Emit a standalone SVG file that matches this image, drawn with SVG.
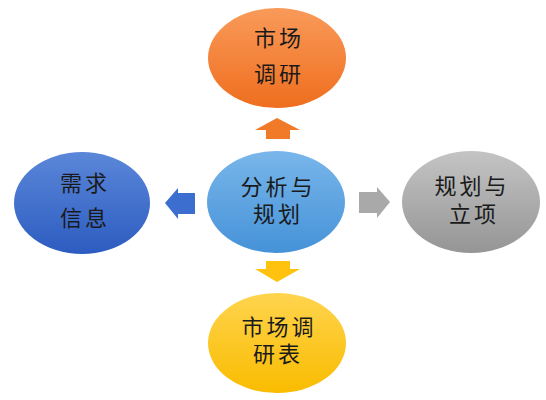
<svg xmlns="http://www.w3.org/2000/svg" width="546" height="400" viewBox="0 0 546 400">
<defs>
<linearGradient id="gOrange" x1="0" y1="0" x2="0" y2="1"><stop offset="0" stop-color="#F99A5A"/><stop offset="1" stop-color="#EF6E1E"/></linearGradient>
<linearGradient id="gBlue" x1="0" y1="0" x2="0" y2="1"><stop offset="0" stop-color="#5B87D9"/><stop offset="1" stop-color="#2C5CC0"/></linearGradient>
<linearGradient id="gLight" x1="0" y1="0" x2="0" y2="1"><stop offset="0" stop-color="#79B6EA"/><stop offset="1" stop-color="#4592D8"/></linearGradient>
<linearGradient id="gGray" x1="0" y1="0" x2="0" y2="1"><stop offset="0" stop-color="#C4C4C4"/><stop offset="1" stop-color="#959595"/></linearGradient>
<linearGradient id="gYellow" x1="0" y1="0" x2="0" y2="1"><stop offset="0" stop-color="#FFD44E"/><stop offset="1" stop-color="#F9BC00"/></linearGradient>
</defs>
<style>
text{font-family:"Noto Sans CJK SC","Noto Sans CJK JP",sans-serif;font-size:22px;letter-spacing:3px;fill:#1a1a1a;text-anchor:middle}
</style>
<g id="connectors">
<polygon points="277,118 300,130 290,130 290,139 266,139 266,130 255,130" fill="#F07A28"/>
<polygon points="165,203 178,188 178,193 195,193 195,214 178,214 178,219" fill="#3C6ECF"/>
<polygon points="390,202 377,187 377,192 359,192 359,213 377,213 377,218" fill="#A9A9A9"/>
<polygon points="277,282 300,269 290,269 290,261 266,261 266,269 255,269" fill="#FFC20E"/>
</g>
<g id="n-market">
<ellipse cx="277" cy="58" rx="69" ry="50" fill="url(#gOrange)"/>
<text x="279" y="46">市场</text>
<text x="279" y="82">调研</text>
</g>
<g id="n-demand">
<ellipse cx="82" cy="203" rx="68" ry="51" fill="url(#gBlue)"/>
<text x="85" y="191">需求</text>
<text x="85" y="226">信息</text>
</g>
<g id="n-analysis">
<ellipse cx="276" cy="202" rx="69" ry="51" fill="url(#gLight)"/>
<text x="278" y="195">分析与</text>
<text x="278" y="222">规划</text>
</g>
<g id="n-plan">
<ellipse cx="471" cy="202" rx="69" ry="51" fill="url(#gGray)"/>
<text x="472" y="194">规划与</text>
<text x="474" y="222">立项</text>
</g>
<g id="n-table">
<ellipse cx="277" cy="343" rx="69" ry="50" fill="url(#gYellow)"/>
<text x="279" y="335">市场调</text>
<text x="278" y="362">研表</text>
</g>
</svg>
